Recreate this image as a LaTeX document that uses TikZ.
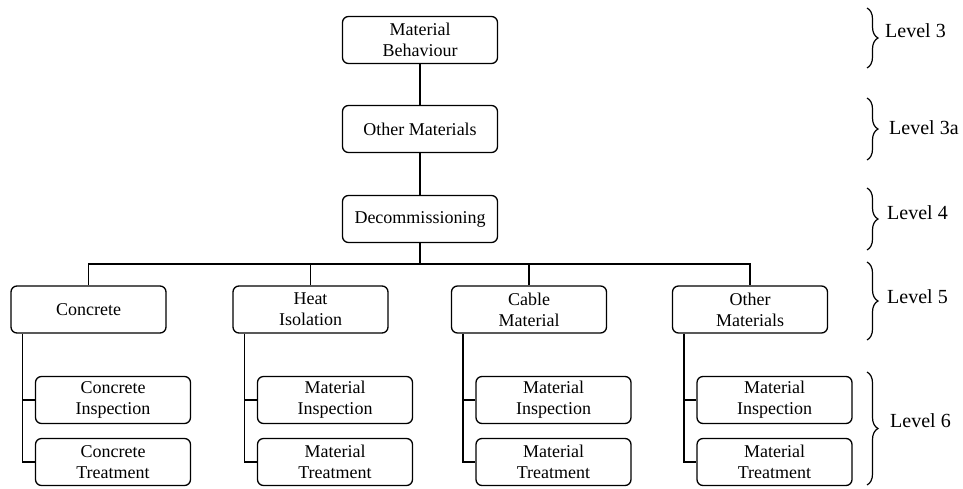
\documentclass[tikz,border=0pt]{standalone}
\usepackage{fontspec}
\setmainfont{Liberation Serif}
\usetikzlibrary{decorations.pathreplacing}
\begin{document}
\begin{tikzpicture}[x=1pt,y=-1pt,
  box/.style={draw, rounded corners=6pt, line width=1.3pt, minimum width=155pt,
    minimum height=47pt, align=center, inner sep=0pt,
    font=\fontsize{18}{21}\selectfont},
  link/.style={line width=1.3pt},
  lvl/.style={anchor=west, inner sep=0pt, font=\fontsize{20}{24}\selectfont},
  brc/.style={decorate, decoration={brace, amplitude=11pt}, line width=1.2pt}]
\useasboundingbox (0,0) rectangle (963,488);

% upper chain
\node[box] (mb)  at (420,40)  {Material\\Behaviour};
\node[box] (om)  at (420,129) {Other Materials};
\node[box] (dec) at (420,219) {Decommissioning};
\draw[link] (mb) -- (om);
\draw[link] (om) -- (dec);

% level 5 categories
\node[box] (c1) at (88.5,309.5)  {Concrete};
\node[box] (c2) at (310.5,309.5) {Heat\\Isolation};
\node[box] (c3) at (529,309.5)   {Cable\\Material};
\node[box] (c4) at (750,309.5)   {Other\\Materials};

% level 6 tasks
\node[box] (i1) at (113,400)   {Concrete\\Inspection};
\node[box] (t1) at (113,462)   {Concrete\\Treatment};
\node[box] (i2) at (335,400)   {Material\\Inspection};
\node[box] (t2) at (335,462)   {Material\\Treatment};
\node[box] (i3) at (553.5,400) {Material\\Inspection};
\node[box] (t3) at (553.5,462) {Material\\Treatment};
\node[box] (i4) at (774.5,400) {Material\\Inspection};
\node[box] (t4) at (774.5,462) {Material\\Treatment};

% bus from Decommissioning to the categories
\coordinate (bus) at (420,264);
\draw[link] (dec) -- (bus);
\draw[link] (c1.north) -- (c1.north |- bus) -- (c4.north |- bus) -- (c4.north);
\draw[link] (c2.north) -- (c2.north |- bus);
\draw[link] (c3.north) -- (c3.north |- bus);

% trunks to the tasks
\foreach \k in {1,2,3,4}{
  \draw[link] ([xshift=12pt]c\k.south west) |- (t\k.west);
  \draw[link] ([xshift=12pt]c\k.south west |- i\k.west) -- (i\k.west);
}

% level braces
\coordinate (a1) at (867,8);   \coordinate (a2) at (867,68);
\coordinate (b1) at (867,98);  \coordinate (b2) at (867,160);
\coordinate (d1) at (867,188); \coordinate (d2) at (867,250);
\coordinate (e1) at (867,262); \coordinate (e2) at (867,340);
\coordinate (f1) at (867,372); \coordinate (f2) at (867,485);
\draw[brc] (a1) -- (a2);
\draw[brc] (b1) -- (b2);
\draw[brc] (d1) -- (d2);
\draw[brc] (e1) -- (e2);
\draw[brc] (f1) -- (f2);
\node[lvl] (l3)  at (885,31)  {Level 3};
\node[lvl] (l3a) at (889,128) {Level 3a};
\node[lvl] (l4)  at (887,213) {Level 4};
\node[lvl] (l5)  at (887,297) {Level 5};
\node[lvl] (l6)  at (890,421) {Level 6};
\end{tikzpicture}
\end{document}
